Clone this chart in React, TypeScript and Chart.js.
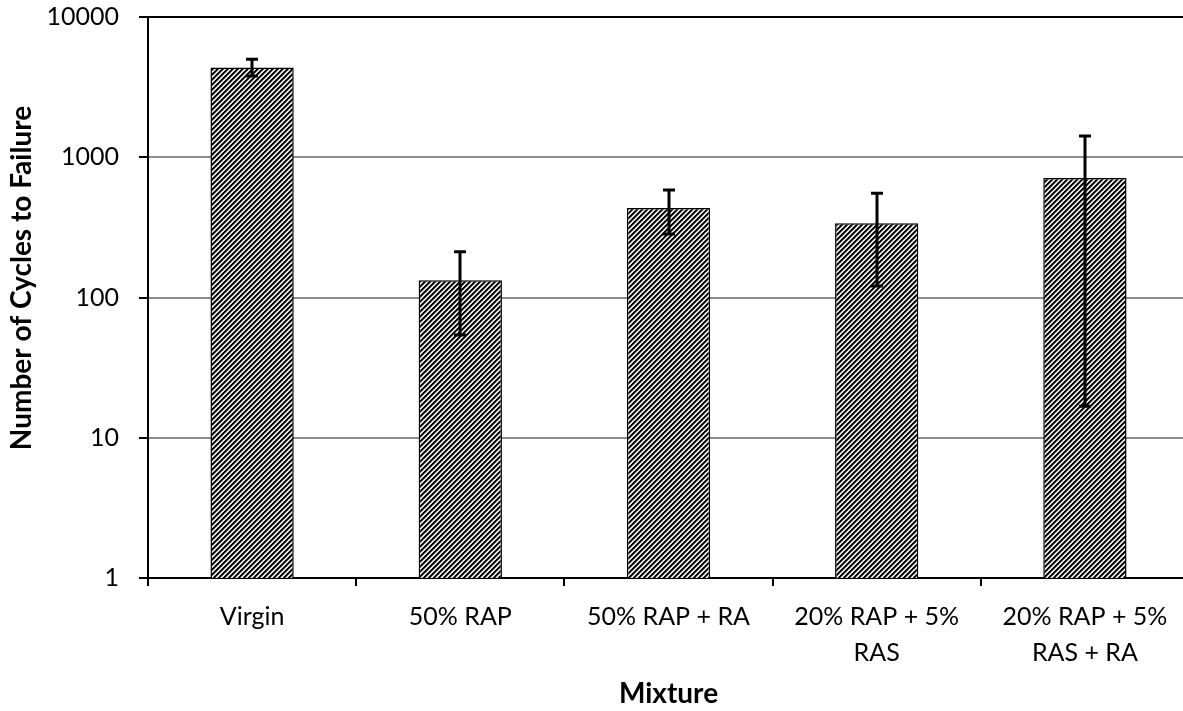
import React, { useEffect, useRef } from "react";
import { Chart, registerables } from "chart.js";

Chart.register(...registerables);

const categories: string[][] = [
  ["Virgin"],
  ["50% RAP"],
  ["50% RAP + RA"],
  ["20% RAP + 5%", "RAS"],
  ["20% RAP + 5%", "RAS + RA"],
];
const cycles = [4365, 133, 435, 338, 711];
const errorUpper = [4990, 212, 584, 553, 1419];
const errorLower = [3796, 54, 284, 121, 16.8];
const yTicks = [1, 10, 100, 1000, 10000];
const yTitle = "Number of Cycles to Failure";
const xTitle = "Mixture";

const FONT = "Lato";

function makePattern(): CanvasPattern | string {
  const size = 5;
  const c = document.createElement("canvas");
  c.width = size;
  c.height = size;
  const g = c.getContext("2d");
  if (!g) return "#777";
  const img = g.createImageData(size, size);
  const shades = [0, 0, 90, 255, 200];
  for (let y = 0; y < size; y++) {
    for (let x = 0; x < size; x++) {
      const d = (x + y) % size;
      const v = shades[d];
      const i = (y * size + x) * 4;
      img.data[i] = v;
      img.data[i + 1] = v;
      img.data[i + 2] = v;
      img.data[i + 3] = 255;
    }
  }
  g.putImageData(img, 0, 0);
  const p = g.createPattern(c, "repeat");
  return p || "#777";
}

const errorBarPlugin = {
  id: "errorBars",
  afterDatasetsDraw(chart: any) {
    const { ctx } = chart;
    const meta = chart.getDatasetMeta(0);
    const y = chart.scales.y;
    ctx.save();
    ctx.strokeStyle = "#000";
    ctx.lineWidth = 3;
    meta.data.forEach((bar: any, i: number) => {
      const x = Math.round(bar.x);
      const yHi = y.getPixelForValue(errorUpper[i]);
      const yLo = y.getPixelForValue(errorLower[i]);
      ctx.beginPath();
      ctx.moveTo(x, yHi);
      ctx.lineTo(x, yLo);
      ctx.moveTo(x - 6, yHi);
      ctx.lineTo(x + 6, yHi);
      ctx.moveTo(x - 6, yLo);
      ctx.lineTo(x + 6, yLo);
      ctx.stroke();
    });
    ctx.restore();
  },
};

const yTitlePlugin = {
  id: "yTitle",
  afterDraw(chart: any) {
    const { ctx } = chart;
    ctx.save();
    ctx.translate(22, 278);
    ctx.rotate(-Math.PI / 2);
    ctx.font = `bold 28px ${FONT}`;
    ctx.fillStyle = "#000";
    ctx.textAlign = "center";
    ctx.textBaseline = "middle";
    ctx.fillText(yTitle, 0, 0);
    ctx.restore();
  },
};

export default function App() {
  const canvasRef = useRef<HTMLCanvasElement | null>(null);

  useEffect(() => {
    const canvas = canvasRef.current;
    if (!canvas) return;
    const chart = new Chart(canvas, {
      type: "bar",
      data: {
        labels: categories,
        datasets: [
          {
            data: cycles,
            backgroundColor: makePattern() as any,
            borderColor: "#000",
            borderWidth: 1.5,
            barPercentage: 0.4,
            categoryPercentage: 1.0,
          },
        ],
      },
      options: {
        responsive: false,
        animation: false,
        layout: { padding: { left: 0, top: 17, right: 11, bottom: 0 } },
        plugins: {
          legend: { display: false },
          tooltip: { enabled: false },
        },
        scales: {
          x: {
            grid: {
              offset: true,
              drawOnChartArea: false,
              drawTicks: true,
              tickLength: 8,
              tickColor: "#000",
              color: "#000",
              lineWidth: 2,
            },
            border: { display: true, color: "#000", width: 2 },
            ticks: {
              font: { family: FONT, size: 25, lineHeight: 1.44 },
              color: "#000",
              padding: 13,
              maxRotation: 0,
              autoSkip: false,
            },
            title: {
              display: true,
              text: xTitle,
              font: { family: FONT, size: 28, weight: "bold" },
              color: "#000",
              padding: { top: 0, bottom: 0 },
            },
            afterFit: (scale: any) => {
              scale.height = 133;
              scale.paddingLeft = 0;
              scale.paddingRight = 0;
            },
          },
          y: {
            type: "logarithmic",
            min: 1,
            max: 10000,
            afterBuildTicks: (scale: any) => {
              scale.ticks = yTicks.map((v) => ({ value: v }));
            },
            afterFit: (scale: any) => {
              scale.width = 148;
              scale.paddingTop = 0;
              scale.paddingBottom = 0;
            },
            border: { display: true, color: "#000", width: 2 },
            grid: {
              color: (c: any) =>
                c.tick && c.tick.value === 10000 ? "#000" : "#8c8c8c",
              lineWidth: 2,
              drawTicks: true,
              tickLength: 9,
              tickColor: "#000",
            },
            ticks: {
              callback: (v: any) => String(v),
              font: { family: FONT, size: 25 },
              color: "#000",
              padding: 20,
            },
            title: { display: false },
          },
        },
      } as any,
      plugins: [errorBarPlugin, yTitlePlugin],
    });
    return () => chart.destroy();
  }, []);

  return (
    <div
      style={{
        position: "fixed",
        left: 0,
        top: 0,
        width: 1183,
        height: 711,
        overflow: "hidden",
        background: "#fff",
      }}
    >
      <canvas ref={canvasRef} width={1200} height={711} style={{ display: "block" }} />
    </div>
  );
}
